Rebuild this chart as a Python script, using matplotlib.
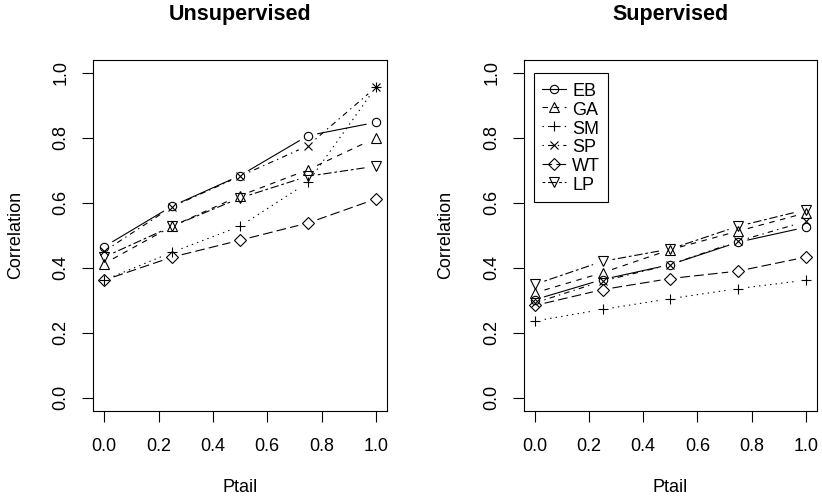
import numpy as np
import matplotlib
matplotlib.use("Agg")
import matplotlib.pyplot as plt
from matplotlib.lines import Line2D

plt.rcParams['font.family'] = ['Liberation Sans', 'DejaVu Sans']
plt.rcParams['lines.scale_dashes'] = False

# data
ptail = [0.0, 0.25, 0.5, 0.75, 1.0]
methods = ['EB', 'GA', 'SM', 'SP', 'WT', 'LP']

unsup = {
    'EB': [0.465, 0.590, 0.684, 0.807, 0.848],
    'GA': [0.413, 0.528, 0.622, 0.702, 0.800],
    'SM': [0.362, 0.448, 0.528, 0.663, 0.956],
    'SP': [0.451, 0.588, 0.682, 0.776, 0.956],
    'WT': [0.362, 0.433, 0.485, 0.538, 0.612],
    'LP': [0.433, 0.528, 0.615, 0.682, 0.713],
}
sup = {
    'EB': [0.302, 0.364, 0.410, 0.479, 0.525],
    'GA': [0.323, 0.385, 0.456, 0.513, 0.569],
    'SM': [0.236, 0.272, 0.305, 0.336, 0.362],
    'SP': [0.292, 0.359, 0.410, 0.482, 0.543],
    'WT': [0.284, 0.333, 0.367, 0.390, 0.433],
    'LP': [0.349, 0.420, 0.458, 0.528, 0.579],
}

# R pch 1..6 and lty 1..6
markers = ['o', '^', '+', 'x', 'D', 'v']
msizes = [6.0, 7.2, 7.5, 5.5, 6.0, 7.2]
dashes = [None, (4, 4), (1, 3), (1, 3, 4, 3), (7, 3), (2, 2, 6, 2)]

fs = 13
lw = 0.8
gap = 10  # pixels left blank around each point (R type="b")

fig = plt.figure(figsize=(8.22, 5), dpi=100)
W, H = 822, 500
ax1 = fig.add_axes([93.3 / W, (H - 410.7) / H, 293.4 / W, 350.7 / H])
ax2 = fig.add_axes([524 / W, (H - 410.7) / H, 292.7 / W, 350.7 / H])


def draw_panel(ax, data, title, legend=False):
    ax.set_xlim(-0.04, 1.04)
    ax.set_ylim(-0.04, 1.04)
    fig.canvas.draw()
    tr = ax.transData
    inv = tr.inverted()
    for i, m in enumerate(methods):
        pts = tr.transform(np.column_stack([ptail, data[m]]))
        for a, b in zip(pts[:-1], pts[1:]):
            d = b - a
            L = np.hypot(*d)
            if L <= 2 * gap:
                continue
            u = d / L
            seg = inv.transform([a + u * gap, b - u * gap])
            ln, = ax.plot(seg[:, 0], seg[:, 1], color='black', lw=lw)
            if dashes[i] is not None:
                ln.set_dashes(dashes[i])
        ax.plot(ptail, data[m], linestyle='none', marker=markers[i],
                ms=msizes[i], mfc='none', mec='black', mew=0.8)

    ax.set_xticks([0, 0.2, 0.4, 0.6, 0.8, 1.0])
    ax.set_yticks([0, 0.2, 0.4, 0.6, 0.8, 1.0])
    ax.set_xticklabels(['0.0', '0.2', '0.4', '0.6', '0.8', '1.0'])
    ax.set_yticklabels(['0.0', '0.2', '0.4', '0.6', '0.8', '1.0'],
                       rotation=90, va='center')
    ax.tick_params(direction='out', length=8, width=0.8, labelsize=fs)
    ax.tick_params(axis='x', pad=12)
    ax.tick_params(axis='y', pad=9)
    for s in ax.spines.values():
        s.set_linewidth(0.8)
    ax.text(0.5, 1 + 45 / 350.7, title, transform=ax.transAxes,
            ha='center', va='center', fontsize=15.5, fontweight='bold')
    ax.text(0.5, -77 / 350.7, 'Ptail', transform=ax.transAxes,
            ha='center', va='center', fontsize=fs)
    ax.text(-78 / 293, 0.5, 'Correlation', transform=ax.transAxes,
            ha='center', va='center', rotation=90, fontsize=fs)

    if legend:
        handles = []
        for i, m in enumerate(methods):
            h = Line2D([], [], color='black', lw=lw, marker=markers[i],
                       ms=msizes[i], mfc='none', mec='black', mew=0.8)
            if dashes[i] is not None:
                h.set_dashes(dashes[i])
            handles.append(h)
        leg = ax.legend(handles, methods, loc='upper left',
                        bbox_to_anchor=(0.035, 0.962), fontsize=fs,
                        handlelength=1.3, handletextpad=0.35,
                        handleheight=1.08, labelspacing=0.0,
                        borderpad=0.45, borderaxespad=0,
                        fancybox=False, framealpha=1, edgecolor='black')
        leg.get_frame().set_linewidth(0.8)


draw_panel(ax1, unsup, 'Unsupervised')
draw_panel(ax2, sup, 'Supervised', legend=True)

fig.savefig('out.png', dpi=100)
